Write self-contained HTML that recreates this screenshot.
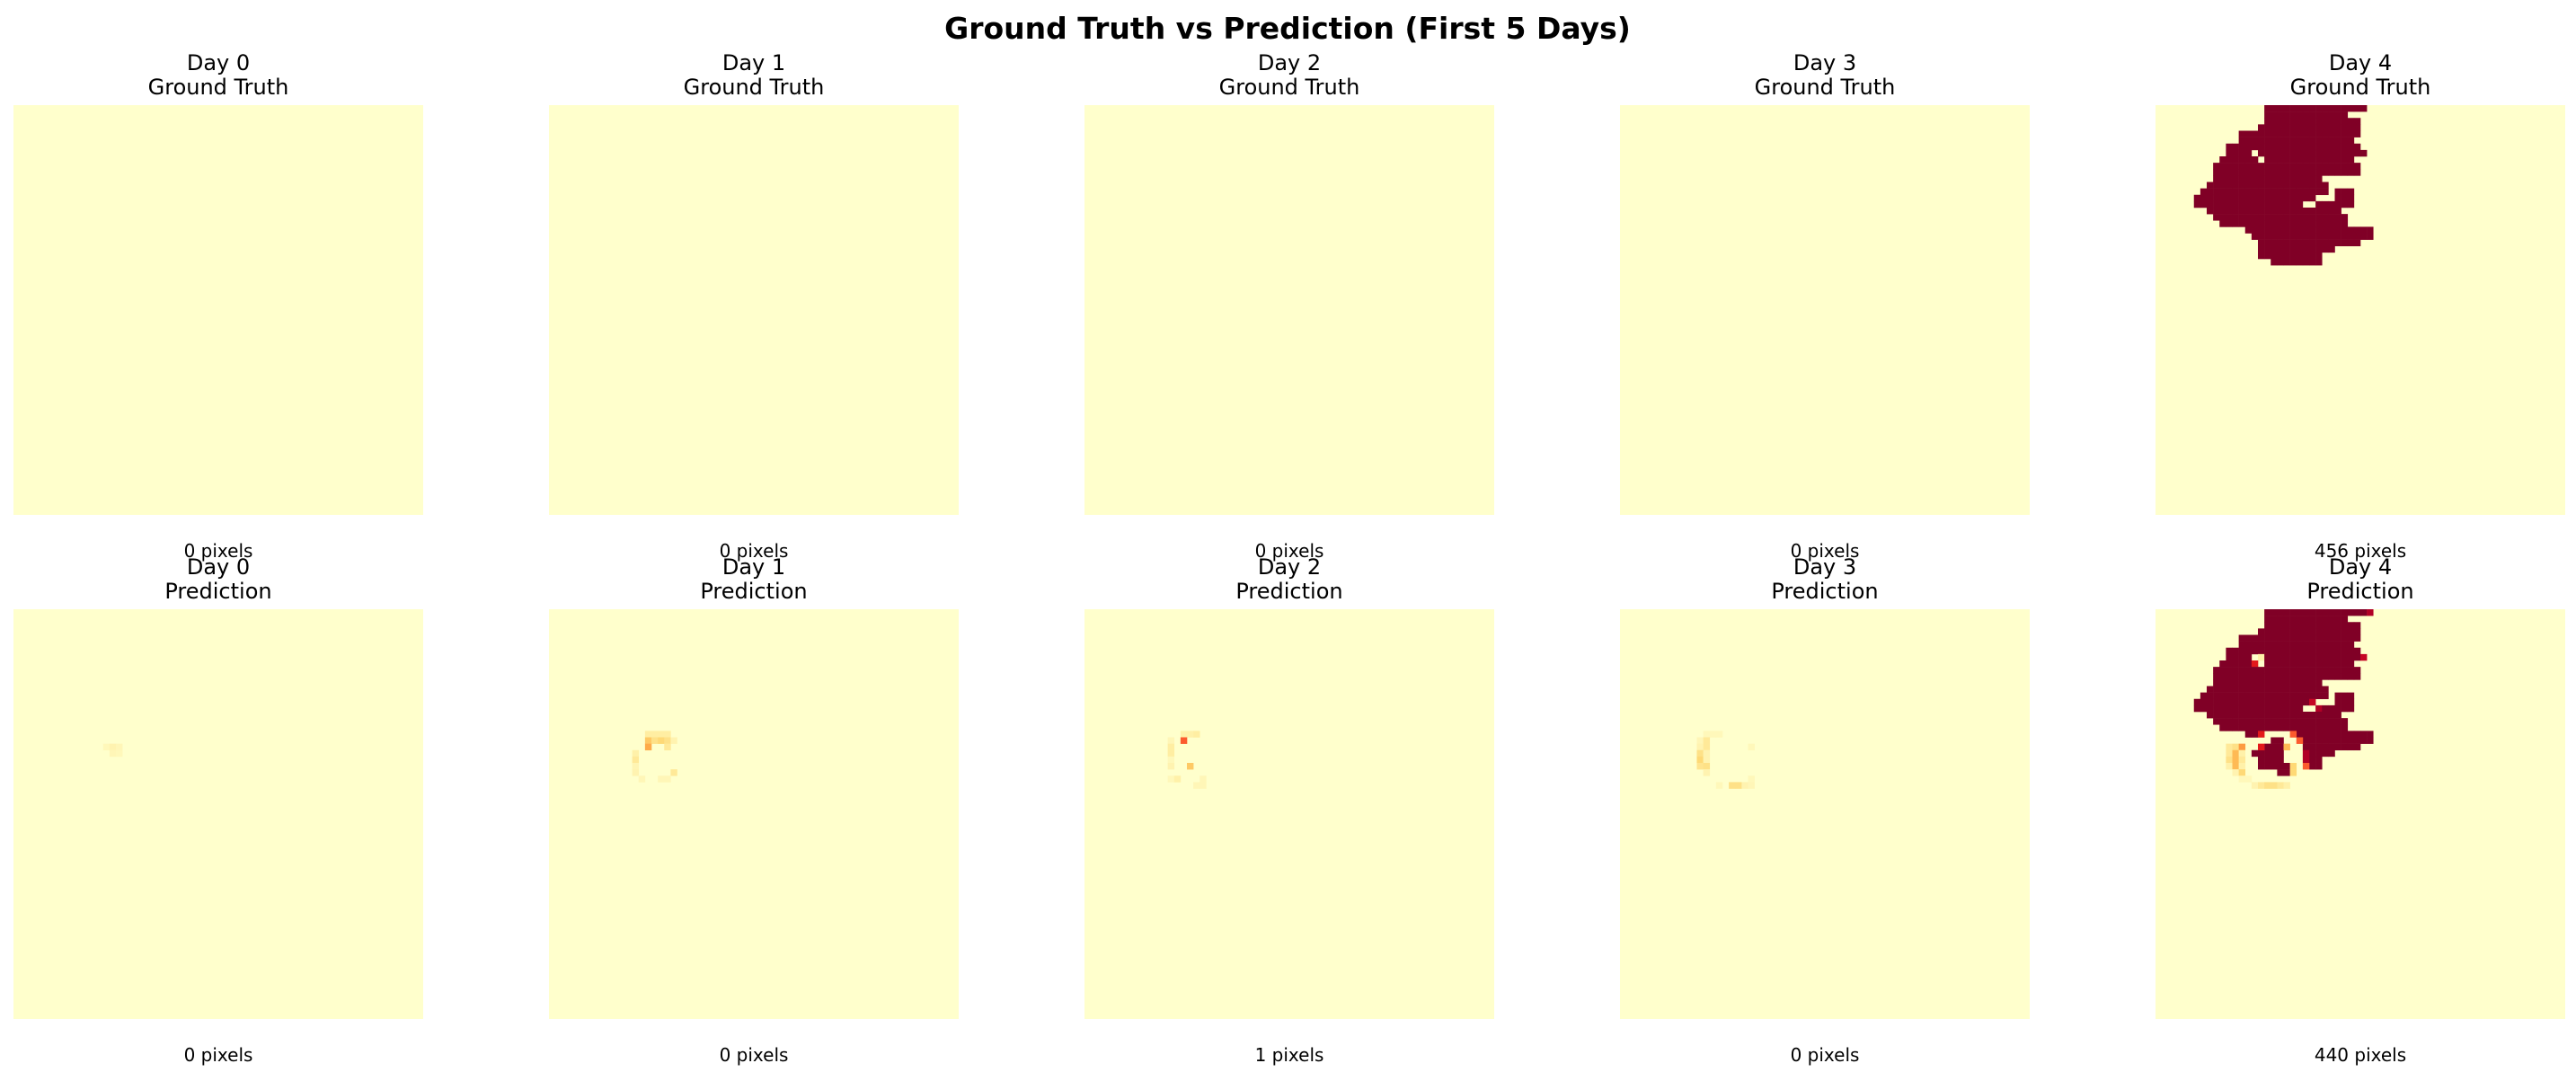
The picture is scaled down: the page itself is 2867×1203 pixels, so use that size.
<!DOCTYPE html>
<html><head><meta charset="utf-8"><style>
html,body{margin:0;padding:0;background:#fff;}
svg text{font-family:"DejaVu Sans","Liberation Sans",sans-serif;fill:#000;}
</style></head><body>
<svg id="fig" width="2867" height="1198" viewBox="0 0 2867 1198" xmlns="http://www.w3.org/2000/svg">
<rect width="2867" height="1198" fill="#fff"/>
<text x="1433" y="43" text-anchor="middle" font-size="33" font-weight="bold">Ground Truth vs Prediction (First 5 Days)</text>
</svg>
<script>
const days = [0,1,2,3,4];
const gtCounts = [0,0,0,0,456];
const predCounts = [0,0,1,0,440];
// Day 4 ground truth runs: [row, startCol, endCol] inclusive
const gt4Runs = [
[0,17,32],[1,17,29],[2,17,31],[3,16,31],[4,13,31],[5,13,30],[6,11,31],
[7,11,14],[7,16,32],[8,10,15],[8,17,30],[9,9,31],[10,9,31],[11,9,25],[12,8,26],
[13,7,26],[13,28,30],[14,6,24],[14,28,30],[15,6,22],[15,25,30],[16,8,28],[17,9,29],
[18,10,29],[19,14,33],[20,15,33],[21,16,31],[22,16,27],[23,16,25],[24,18,25]
];
// Prediction day 4: rows 19-25 replaced by these runs, then cell overrides
const pred4Runs = [
[19,14,16],[19,22,33],[20,18,19],[20,23,33],[21,17,19],[21,23,31],
[22,15,19],[22,24,27],[23,16,19],[23,24,25],[24,16,20],[24,24,25],[25,19,20]
];
const pred4Cells = [
[0,33,0.9],[7,32,0.85],[7,15,0],[7,16,0.1],[8,15,0.75],[8,16,0],[14,24,0.85],[15,25,0.9],
[19,16,0.75],[19,21,0.6],[20,22,0.6],[21,16,0.75],[21,20,0.35],[22,23,0.9],[23,23,0.9],
[24,23,0.6],[24,21,0.25],[25,21,0.25],
[21,11,0.15],[21,12,0.2],[21,13,0.45],[22,11,0.15],[22,12,0.35],[22,13,0.1],
[23,11,0.2],[23,12,0.35],[23,13,0.15],[24,11,0.1],[24,12,0.35],[24,13,0.1],
[25,12,0.08],[25,13,0.25],[26,13,0.05],[26,14,0.05],
[27,15,0.08],[27,16,0.15],[27,17,0.2],[27,18,0.2],[27,19,0.15],[27,20,0.1]
];
const pred0Cells = [[21,14,0.05],[21,15,0.08],[21,16,0.06],[22,15,0.06],[22,16,0.05]];
const pred1Cells = [
[19,15,0.12],[19,16,0.12],[19,17,0.12],[19,18,0.12],
[20,15,0.3],[20,16,0.2],[20,17,0.25],[20,18,0.2],[20,19,0.08],
[21,15,0.4],[21,18,0.15],[22,13,0.1],[23,13,0.15],[24,13,0.07],
[25,13,0.08],[25,19,0.15],[26,14,0.06],[26,17,0.06],[26,18,0.06]
];
const pred2Cells = [
[19,15,0.1],[19,16,0.1],[19,17,0.12],[20,13,0.06],[20,15,0.6],
[21,13,0.12],[22,13,0.12],[23,13,0.05],[24,13,0.08],[24,16,0.3],
[26,13,0.05],[26,14,0.1],[26,18,0.06],[27,17,0.06],[27,18,0.06]
];
const pred3Cells = [
[19,13,0.05],[19,14,0.05],[19,15,0.05],[20,12,0.06],[20,13,0.15],
[21,12,0.08],[21,13,0.15],[21,20,0.05],[22,12,0.2],[22,13,0.08],
[23,12,0.25],[23,13,0.08],[24,12,0.18],[24,13,0.2],[25,13,0.08],[26,20,0.05],
[27,15,0.05],[27,17,0.2],[27,18,0.2],[27,19,0.08],[27,20,0.06]
];

const N = 64;
const panelX = d => 15 + d * 596;
const rowY = [117, 678];
const PS = 456;
const cs = PS / N;
const stops = ['#ffffcc','#ffeda0','#fed976','#feb24c','#fd8d3c','#fc4e2a','#e31a1c','#bd0026','#800026'];
function hex(c){return [1,3,5].map(i=>parseInt(c.substr(i,2),16));}
function cmap(v){
  v=Math.max(0,Math.min(1,v));
  const p=v*8,i=Math.min(7,Math.floor(p)),t=p-i;
  const a=hex(stops[i]),b=hex(stops[i+1]);
  return 'rgb('+a.map((x,k)=>Math.round(x+(b[k]-x)*t)).join(',')+')';
}
const NS='http://www.w3.org/2000/svg';
const svg=document.getElementById('fig');
function mk(tag,attrs,parent){const e=document.createElementNS(NS,tag);for(const k in attrs)e.setAttribute(k,attrs[k]);(parent||svg).appendChild(e);return e;}
function txt(x,y,s,size,name){const t=mk('text',{x:x,y:y,'text-anchor':'middle','font-size':size});t.textContent=s;


return t;}

function gridFromRuns(runs){const g={};runs.forEach(r=>{for(let c=r[1];c<=r[2];c++)g[r[0]+','+c]=1;});return g;}
function drawPanel(d,row,grid,name){
  const x0=panelX(d),y0=rowY[row];
  const g=mk('g',{});
  
  
  mk('rect',{x:x0,y:y0,width:PS,height:PS,fill:stops[0]},g);
  for(const key in grid){const v=grid[key];if(v<=0)continue;const [r,c]=key.split(',').map(Number);
    const cell=mk('rect',{x:(x0+c*cs).toFixed(2),y:(y0+r*cs).toFixed(2),width:(cs+0.3).toFixed(2),height:(cs+0.3).toFixed(2),fill:cmap(v)},g);
    
    
  }
}
const predCellSets=[pred0Cells,pred1Cells,pred2Cells,pred3Cells];
days.forEach(d=>{
  const cx=panelX(d)+PS/2;
  txt(cx,78,'Day '+d,24,'gt-title-day');
  txt(cx,105,'Ground Truth',24,'gt-title');
  txt(cx,620,gtCounts[d]+' pixels',20,'gt-pixel-count');
  txt(cx,639,'Day '+d,24,'pred-title-day');
  txt(cx,666,'Prediction',24,'pred-title');
  txt(cx,1181,predCounts[d]+' pixels',20,'pred-pixel-count');
  let gt={},pr={};
  if(d===4){
    gt=gridFromRuns(gt4Runs);
    pr=gridFromRuns(gt4Runs.filter(r=>r[0]<19).concat(pred4Runs));
    pred4Cells.forEach(c=>{pr[c[0]+','+c[1]]=c[2];});
  } else {
    predCellSets[d].forEach(c=>{pr[c[0]+','+c[1]]=c[2];});
  }
  drawPanel(d,0,gt,'ground-truth-day-'+d);
  drawPanel(d,1,pr,'prediction-day-'+d);
});
</script>
</body></html>
